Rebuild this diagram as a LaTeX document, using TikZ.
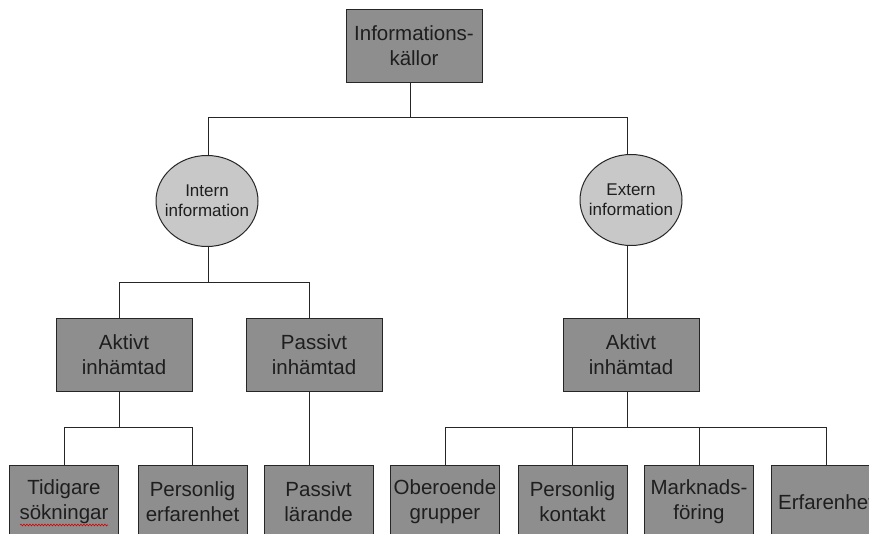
\documentclass[tikz,border=0pt]{standalone}
\usepackage{fontspec}
\setmainfont{Liberation Sans}
\usetikzlibrary{shapes.geometric,decorations.pathmorphing}
\definecolor{boxgray}{HTML}{8E8E8E}
\definecolor{ellgray}{HTML}{C8C8C8}
\definecolor{txt}{HTML}{1E1E1E}
\begin{document}
\begin{tikzpicture}[x=1pt,y=-1pt,
  box/.style={draw=black!85, line width=1pt, fill=boxgray, minimum width=136pt, minimum height=73pt,
    inner sep=0pt, align=center, text=txt, font=\fontsize{20.5}{25}\selectfont},
  sbox/.style={box, minimum width=109pt, minimum height=74pt},
  ell/.style={ellipse, draw=black!85, line width=1pt, fill=ellgray, minimum width=102pt, minimum height=91pt,
    inner sep=0pt},
  elltext/.style={align=center, text=txt, inner sep=0pt, font=\fontsize{17}{20}\selectfont},
  conn/.style={draw=black!85, line width=1pt}]
\useasboundingbox (0,0) rectangle (869,534);
\fill[white] (0,0) rectangle (869,534);
\clip (0,0) rectangle (869,534);

% nodes
\node[box] (top) at (414,46) {Informations-\\källor};
\node[ell, label={[elltext]center:Intern\\information}] (intern) at (207,201) {};
\node[ell, label={[elltext]center:Extern\\information}] (extern) at (631,200) {};
\node[box] (aktivI) at (124,354.5) {Aktivt\\inhämtad};
\node[box] (passivI) at (314,354.5) {Passivt\\inhämtad};
\node[box] (aktivE) at (631,354.5) {Aktivt\\inhämtad};
\node[sbox] (tid) at (64,502) {Tidigare\\sökningar};
\node[sbox] (perserf) at (192.5,502) {Personlig\\erfarenhet};
\node[sbox] (passl) at (318.5,502) {Passivt\\lärande};
\node[sbox] (ober) at (445,502) {Oberoende\\grupper};
\node[sbox] (perskon) at (572.5,502) {Personlig\\kontakt};
\node[sbox] (mark) at (699,502) {Marknads-\\föring};
\node[sbox] (erf) at (826,502) {Erfarenhet};

% spell-check squiggle
\draw[red!85!black, line width=0.6pt, decorate, decoration={snake, amplitude=0.9pt, segment length=3pt}]
  (20,525) -- (108,525);

% connector junctions
\coordinate (j0) at (410,118);
\coordinate (ji) at (208,118);
\coordinate (je) at (627,118);
\coordinate (k0) at (208,283);
\coordinate (ka) at (119,283);
\coordinate (kp) at (309,283);
\coordinate (l0) at (119,427);
\coordinate (la) at (64,427);
\coordinate (lb) at (192,427);
\coordinate (m0) at (627,427);
\coordinate (ma) at (445,427);
\coordinate (mb) at (826,427);

% connectors
\draw[conn] (top.south -| j0) -- (j0);
\draw[conn] (intern.north -| ji) -- (ji) -- (je) -- (extern.north -| je);
\draw[conn] (intern.south -| k0) -- (k0);
\draw[conn] (aktivI.north -| ka) -- (ka) -- (kp) -- (passivI.north -| kp);
\draw[conn] (aktivI.south -| l0) -- (l0);
\draw[conn] (tid.north -| la) -- (la) -- (lb) -- (perserf.north -| lb);
\draw[conn] (passivI.south -| kp) -- (passl.north -| kp);
\draw[conn] (extern.south -| je) -- (aktivE.north -| je);
\draw[conn] (aktivE.south -| m0) -- (m0);
\draw[conn] (ober.north -| ma) -- (ma) -- (mb) -- (erf.north -| mb);
\draw[conn] (perskon.north) -- (perskon.north |- ma);
\draw[conn] (mark.north) -- (mark.north |- ma);
\end{tikzpicture}
\end{document}
